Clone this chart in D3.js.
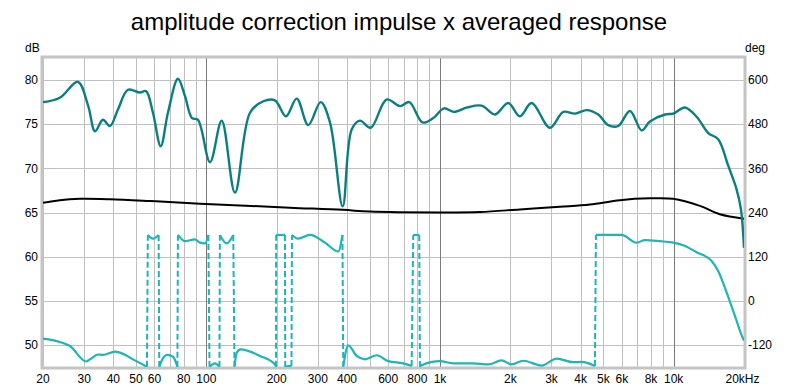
<!DOCTYPE html>
<html>
<head>
<meta charset="utf-8">
<script src="https://cdn.jsdelivr.net/npm/d3@7"></script>
<style>
  body { margin: 0; background: #fff; }
  svg { display: block; }
  text { font-family: "Liberation Sans", Arial, sans-serif; fill: #000; }
</style>
</head>
<body>
<div id="chart"></div>
<script>

// amplitude (dark teal)
var ampFreq = [20, 23.6, 28.2, 31.2, 33.4, 36.1, 38.7, 41.9, 46.2, 52, 55.2, 59.1, 63.8, 68.5, 75.6, 81, 86.8, 92.1,
	103.7, 116.3, 132.6, 153.8, 175.3, 196.7, 219.2, 243.6, 273.1, 308.6, 338.2, 383.3, 418.8, 454.5, 505, 591,
	674, 739, 843, 936, 1040, 1147, 1308, 1508, 1719, 1959, 2198, 2467, 2955, 3369, 3781, 4243, 4755, 5248, 5790,
	6499, 7293, 7915, 9175, 9957, 11172, 12539, 14058, 15508, 17117, 18599, 19399, 20000]
var ampDb = [77.5, 78.0, 79.8, 77.1, 74.2, 75.5, 74.8, 76.7, 78.9, 78.6, 78.75, 76.3, 72.5, 76.3, 80.15, 78.2, 75.7, 75.5,
	70.7, 75.4, 67.25, 76.3, 77.6, 77.7, 75.9, 77.9, 74.9, 77.5, 75.2, 65.7, 74.4, 75.4, 74.6, 77.8,
	77.05, 77.5, 75.2, 75.7, 76.8, 76.4, 76.9, 77.1, 76.1, 77.4, 75.9, 77.4, 74.6, 76.4, 76.2, 76.6, 76.1, 74.9, 74.8,
	76.5, 74.3, 75.3, 76.1, 76.2, 76.9, 75.85, 74.0, 73.3, 70.3, 67.6, 65.4, 61.0]

// black curve
var sumFreq = [20, 23.6, 28.8, 38.7, 57.4, 93.9, 228, 384, 501, 1000, 1482, 2198, 3260, 4381, 5889, 7915, 9957, 12950, 15770, 20000]
var sumDb = [66.1, 66.4, 66.55, 66.5, 66.3, 66.0, 65.55, 65.3, 65.1, 65.0, 65.05, 65.35, 65.65, 65.9, 66.4, 66.6, 66.55, 65.75, 64.8, 64.3]

// phase (light teal), wrapped to +-180 deg
var phaseFreq = [20, 23.6, 26.1, 30.6, 31.8, 34.4, 36.1, 40.7, 42.7, 49.5, 55.7,
	56.2, 59.1, 62.5,
	62.9, 63.4, 67.9, 72.0, 75.2,
	75.6, 81.0, 89.4, 93.9, 98.7, 102.0,
	103.2, 108.9, 113.8,
	114.3, 122.2, 130.4,
	132.0, 134.9, 140.3, 169.7, 196.7, 198.6,
	199, 217.0,
	217.6, 231.4,
	232.6, 246.7, 277.7, 321.9, 367.0, 382.4,
	385.5, 405.0, 439.9, 477.3, 535.7, 600.5, 696.1, 756.3,
	768.2, 815.0,
	820.6, 834.6, 1000, 1139.5, 1387.6, 1608.6, 1835.4, 2025.6, 2271.4, 2722.8, 3156.7, 3717.5, 4037.6, 4602.7,
	4648.5, 4995, 5989, 6942, 7535, 8734, 9957, 10987, 12539, 14535, 15508, 16850, 18290, 19724, 20000]
var phaseDeg = [-103, -112, -123, -165, -159, -146, -147, -138, -141, -162, -179,
	179, 169, 179,
	-179, -173, -147, -152, -179,
	179, 162, 167, 158, 156, 179,
	-179, -170, -179,
	179, 156, 179,
	-179, -141, -132, -150, -173, -179,
	179, 179,
	-179, -177,
	179, 169, 179, 158, 134, 179,
	-179, -121, -150, -159, -148, -164, -170, -177,
	179, 179,
	-179, -175, -164, -170, -170, -173, -162, -173, -163, -176, -157, -167, -166, -177,
	179, 179, 179, 158, 165, 162, 158, 151, 132, 108, 81, 23, -41, -100, -108]

var dbTicks = [50, 55, 60, 65, 70, 75, 80]
var degTicks = [-120, 0, 120, 240, 360, 480, 600]
var gridFreqs = [20, 30, 40, 50, 60, 70, 80, 90, 100, 200, 300, 400, 500, 600, 700, 800, 900,
	1000, 2000, 3000, 4000, 5000, 6000, 7000, 8000, 9000, 10000, 20000]
var labelFreqs = [20, 30, 40, 50, 60, 80, 100, 200, 300, 400, 600, 800, 1000, 2000, 3000, 4000, 5000, 6000, 8000, 10000, 20000]
var labelText = ["20", "30", "40", "50", "60", "80", "100", "200", "300", "400", "600", "800", "1k", "2k", "3k", "4k", "5k", "6k", "8k", "10k", "20kHz"]

var width = 800
var height = 390
var margin = {left: 43, right: 56, top: 58, bottom: 23}

var x = d3.scaleLog()
	.domain([20, 20000])
	.range([margin.left, width - margin.right])

var y = d3.scaleLinear()
	.domain([47.5, 82.5])
	.range([height - margin.bottom, margin.top])

// right axis is tied to the left one: deg = (dB - 55) * 24
var yDeg = d3.scaleLinear()
	.domain([(47.5 - 55) * 24, (82.5 - 55) * 24])
	.range([height - margin.bottom, margin.top])

var svg = d3.select("#chart")
	.append("svg")
	.attr("width", width)
	.attr("height", height)
	.attr("viewBox", `0 0 ${width} ${height}`)

svg.append("text")
	.attr("x", 399)
	.attr("y", 30)
	.attr("text-anchor", "middle")
	.attr("font-size", 24)
	.text("amplitude correction impulse x averaged response")

svg.append("defs").append("clipPath")
	.attr("id", "plotclip")
	.append("rect")
	.attr("x", margin.left)
	.attr("y", margin.top)
	.attr("width", width - margin.left - margin.right)
	.attr("height", height - margin.top - margin.bottom)

// grid
var grid = svg.append("g")

grid.selectAll("line.h")
	.data(dbTicks)
	.join("line")
	.attr("class", "h")
	.attr("x1", margin.left)
	.attr("x2", width - margin.right)
	.attr("y1", d => Math.round(y(d)) + 0.5)
	.attr("y2", d => Math.round(y(d)) + 0.5)
	.attr("stroke", "#c0c0c0")

grid.selectAll("line.v")
	.data(gridFreqs)
	.join("line")
	.attr("class", "v")
	.attr("x1", d => Math.round(x(d)) + 0.5)
	.attr("x2", d => Math.round(x(d)) + 0.5)
	.attr("y1", margin.top)
	.attr("y2", height - margin.bottom)
	.attr("stroke", d => (d == 100 || d == 1000 || d == 10000) ? "#7a7a7a" : "#c0c0c0")

// frame
svg.append("rect")
	.attr("x", margin.left - 1)
	.attr("y", margin.top - 1)
	.attr("width", width - margin.left - margin.right + 2)
	.attr("height", height - margin.top - margin.bottom + 2)
	.attr("fill", "none")
	.attr("stroke", "#c4c4c4")
	.attr("stroke-width", 3)

// axis labels
svg.append("g")
	.selectAll("text")
	.data(dbTicks)
	.join("text")
	.attr("x", 38)
	.attr("y", d => y(d))
	.attr("dy", "0.35em")
	.attr("text-anchor", "end")
	.attr("font-size", 12)
	.text(d => d)

svg.append("g")
	.selectAll("text")
	.data(degTicks)
	.join("text")
	.attr("x", 748)
	.attr("y", d => yDeg(d))
	.attr("dy", "0.35em")
	.attr("font-size", 12)
	.text(d => d)

svg.append("g")
	.selectAll("text")
	.data(labelFreqs)
	.join("text")
	.attr("x", (d, i) => i == labelFreqs.length - 1 ? x(d) - 1.5 : x(d))
	.attr("y", 383)
	.attr("text-anchor", "middle")
	.attr("font-size", 12)
	.text((d, i) => labelText[i])

svg.append("text")
	.attr("x", 25)
	.attr("y", 52)
	.attr("font-size", 12)
	.text("dB")

svg.append("text")
	.attr("x", 745)
	.attr("y", 52)
	.attr("font-size", 12)
	.text("deg")

// curves
var plot = svg.append("g").attr("clip-path", "url(#plotclip)")

var lineDb = d3.line()
	.x(d => x(d[0]))
	.y(d => y(d[1]))
	.curve(d3.curveCatmullRom.alpha(0.5))

var lineDeg = d3.line()
	.x(d => x(d[0]))
	.y(d => yDeg(d[1]))
	.curve(d3.curveMonotoneX)

// split phase where it wraps
var phase = phaseFreq.map((f, i) => [f, phaseDeg[i]])
var segs = [[]]
phase.forEach((p, i) => {
	if (i > 0 && Math.abs(p[1] - phase[i - 1][1]) > 180) segs.push([])
	segs[segs.length - 1].push(p)
})

var wraps = []
for (var i = 1; i < segs.length; i++) {
	wraps.push([segs[i - 1][segs[i - 1].length - 1], segs[i][0]])
}

plot.append("g")
	.selectAll("path")
	.data(wraps)
	.join("path")
	.attr("d", d => d3.line().x(p => x(p[0])).y(p => yDeg(p[1]))(d))
	.attr("fill", "none")
	.attr("stroke", "#1db5b5")
	.attr("stroke-width", 2)
	.style("stroke-dasharray", "6, 3")

plot.append("g")
	.selectAll("path")
	.data(segs)
	.join("path")
	.attr("d", lineDeg)
	.attr("fill", "none")
	.attr("stroke", "#1db5b5")
	.attr("stroke-width", 2.2)
	.attr("stroke-linejoin", "round")

plot.append("path")
	.datum(sumFreq.map((f, i) => [f, sumDb[i]]))
	.attr("d", lineDb)
	.attr("fill", "none")
	.attr("stroke", "#000")
	.attr("stroke-width", 2)

plot.append("path")
	.datum(ampFreq.map((f, i) => [f, ampDb[i]]))
	.attr("d", lineDb)
	.attr("fill", "none")
	.attr("stroke", "#0b7f80")
	.attr("stroke-width", 2.4)
	.attr("stroke-linejoin", "round")

</script>
</body>
</html>
